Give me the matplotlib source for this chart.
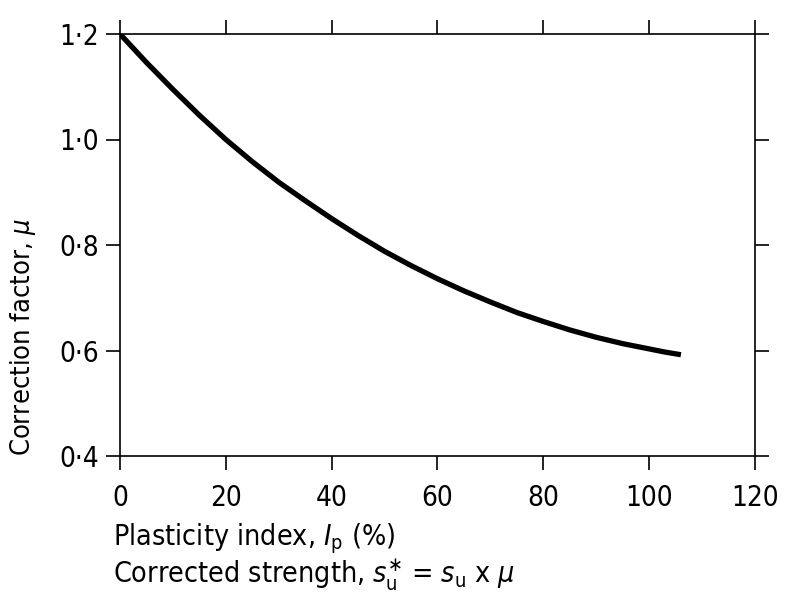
import matplotlib.pyplot as plt
from matplotlib.ticker import FixedLocator, FixedFormatter

# Valores (índice de plasticidad vs factor de corrección)
plasticity_index = [0, 5, 10, 15, 20, 25, 30, 35, 40, 45, 50, 55, 60,
                    65, 70, 75, 80, 85, 90, 95, 100, 103, 106]
correction_factor = [1.20, 1.146, 1.095, 1.046, 1.0, 0.958, 0.919, 0.884,
                     0.850, 0.818, 0.788, 0.761, 0.736, 0.713, 0.692, 0.672,
                     0.655, 0.639, 0.625, 0.613, 0.603, 0.597, 0.592]

x_ticks = [0, 20, 40, 60, 80, 100, 120]
x_tick_labels = ["0", "20", "40", "60", "80", "100", "120"]
y_ticks = [0.4, 0.6, 0.8, 1.0, 1.2]
y_tick_labels = ["0·4", "0·6", "0·8", "1·0", "1·2"]

plt.rcParams["font.family"] = ["DejaVu Sans"]
plt.rcParams["font.stretch"] = "condensed"

fig = plt.figure(figsize=(7.89, 6.11), dpi=100)
ax = fig.add_axes([120 / 789, 1 - 456 / 611, 635 / 789, 422 / 611])

ax.plot(plasticity_index, correction_factor, color="black", lw=3.8,
        solid_capstyle="butt", solid_joinstyle="round")

ax.set_xlim(0, 120)
ax.set_ylim(0.4, 1.2)
ax.xaxis.set_major_locator(FixedLocator(x_ticks))
ax.xaxis.set_major_formatter(FixedFormatter(x_tick_labels))
ax.yaxis.set_major_locator(FixedLocator(y_ticks))
ax.yaxis.set_major_formatter(FixedFormatter(y_tick_labels))

for s in ax.spines.values():
    s.set_linewidth(1.2)

ax.tick_params(axis="both", which="major", direction="out", length=10,
               width=1.2, top=True, right=True, labelsize=20)
ax.tick_params(axis="x", pad=10)
ax.tick_params(axis="y", pad=5)

# Etiquetas de los ejes
fig.text(23 / 789, 1 - 337 / 611, r"Correction factor, $\mu$", rotation=90,
         ha="center", va="center", fontsize=19.5)
fig.text(113 / 789, 1 - 545 / 611, r"Plasticity index, $I_{\mathrm{p}}$ (%)",
         ha="left", va="baseline", fontsize=20.5)
fig.text(113 / 789, 1 - 583 / 611,
         r"Corrected strength, $s_{\mathrm{u}}^{\ast}$ = $s_{\mathrm{u}}$ x $\mu$",
         ha="left", va="baseline", fontsize=20.5)

fig.savefig("out.png", dpi=100)
